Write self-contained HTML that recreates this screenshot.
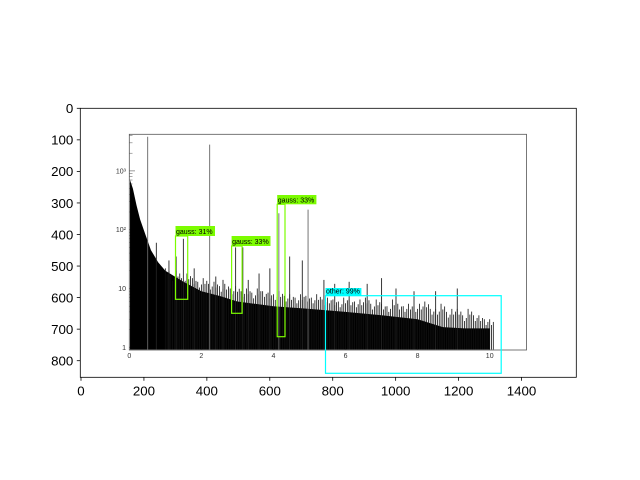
<!DOCTYPE html>
<html><head><meta charset="utf-8"><style>
body{margin:0;background:#fff;}
svg{display:block;font-family:"Liberation Sans",sans-serif;}
</style></head><body>
<svg id="c" width="640" height="480" viewBox="0 0 640 480">
<rect x="0" y="0" width="640" height="480" fill="#fff"/>
<g id="img"></g>
<g id="axes"></g>
</svg>
<script>
// outer axes (image pixel coordinates)
const xTicks=[0,200,400,600,800,1000,1200,1400];
const yTicks=[0,100,200,300,400,500,600,700,800];
// inner spectrum data (energy units, log counts)
const envX=[0.02,0.1,0.2,0.3,0.4,0.6,0.8,1.0,1.5,2.0,2.5,3.0,4.0,5.0,6.0,7.0,8.0,8.7,9.3,10.0];
const envHi=[700,500,260,150,100,45,28,20,13,9,7.5,6,5,4.5,4,3.5,3,2.2,2.1,2.1];
const hairStartX=1.0;
const hairStepX=0.15;
const hairY=[22,17,20,15,18,15,13,15,12,13,11,12,10,11,9,10,8.5,10,9,8.5,8,9,7.5,8,7,8,7.5,7,8,6.5,7,6.5,6,7,6.5,6,6.5,7,5.5,6.5,5.5,5,6.5,5.5,5,5.5,5,5.5,6,4.5,4.5,5.5,4,4.5,4.5,3.5,4.5,3.5,3.5,3,3];
const spikeX=[0.51,2.23,4.15,4.96,1.5,1.3,2.95,3.15,4.45,4.8,3.6,2.6,0.75,1.1,3.9,5.4,6.1,6.6,7.0,7.4,7.9,8.5,9.1,5.7,3.3,2.4,1.8];
const spikeY=[3800,2800,190,220,70,35,50,50,35,30,18,14,60,30,22,14,13,12,15,10,9,9,10,12,14,16,22];
const innerXTicks=[0,2,4,6,8,10];
const innerYTicks=[1,10,100,1000];
const innerYTickLabels=["1","10","10²","10³"];
const boxLabels=["gauss: 31%","gauss: 33%","gauss: 33%","other: 99%"];

const NS="http://www.w3.org/2000/svg";
function mk(tag,attrs,parent){const e=document.createElementNS(NS,tag);for(const k in attrs)e.setAttribute(k,attrs[k]);parent.appendChild(e);return e;}
const img=document.getElementById('img'),axes=document.getElementById('axes');
const AX0=80.3,AX1=576.3,AY0=108.3,AY1=377.3;
const ox=v=>81+v*(440.5/1400);
const oy=v=>108.3+v*(252.4/800);
const ix=v=>129.3+v*36.04;
const iy=v=>347.3-Math.log10(v)*58.8;
const BASE=349.5;

let f=mk('rect',{x:129.3,y:134.3,width:397.2,height:215.7,fill:'none',stroke:'#555','stroke-width':0.8},img);


innerXTicks.forEach(t=>{
 let l=mk('line',{x1:ix(t),x2:ix(t),y1:350,y2:346,stroke:'#555','stroke-width':0.6},img);
 
 
 let tx=mk('text',{x:ix(t),y:358,'font-size':7,'text-anchor':'middle',fill:'#333'},img);tx.textContent=t;
 
 
});
innerYTicks.forEach((t,i)=>{
 let l=mk('line',{x1:129.3,x2:135,y1:iy(t),y2:iy(t),stroke:'#555','stroke-width':0.6},img);
 
 
 for(let m=2;m<10;m++){let v=t*m;if(v>4000)break;
  let mm=mk('line',{x1:129.3,x2:132.5,y1:iy(v),y2:iy(v),stroke:'#555','stroke-width':0.5},img);
  
  }
 let tx=mk('text',{x:126,y:iy(t)+2.5,'font-size':7,'text-anchor':'end',fill:'#333'},img);tx.textContent=innerYTickLabels[i];
 
 
});
let d='M'+ix(envX[0]).toFixed(2)+' '+BASE;
envX.forEach((x,i)=>{d+=' L'+ix(x).toFixed(2)+' '+iy(envHi[i]).toFixed(2);});
d+=' L'+ix(envX[envX.length-1]).toFixed(2)+' '+BASE+' Z';
let poly=mk('path',{d:d,fill:'#000',stroke:'none'},img);


hairY.forEach((h,i)=>{
 const x=hairStartX+i*hairStepX;
 for(let k=0;k<3;k++){
  const xx=x+k*0.05, hh=h*(k==1?0.8:(k==2?0.9:1));
  let l=mk('line',{x1:ix(xx),x2:ix(xx),y1:BASE,y2:iy(hh),stroke:'#111','stroke-width':0.8},img);
  
  
 }
});
spikeX.forEach((x,i)=>{
 let l=mk('line',{x1:ix(x),x2:ix(x),y1:BASE,y2:iy(spikeY[i]),stroke:i<4?'#666':'#222','stroke-width':0.9},img);
 
 
});
const boxes=[[175.5,236,187.7,299.3,'#7cfc00',215,226],[231.6,246,242.1,313.3,'#7cfc00',270.5,236],[277.2,204.3,285,336.7,'#7cfc00',316.4,195],[325.5,295.7,501.2,373.3,'#00ffff',361.4,288]];
boxes.forEach((b,i)=>{
 let r=mk('rect',{x:b[0],y:b[1],width:b[2]-b[0],height:b[3]-b[1],fill:'none',stroke:b[4],'stroke-width':1.2},img);
 
 
 let bg=mk('rect',{x:b[0],y:b[6],width:b[5]-b[0],height:b[1]-b[6],fill:b[4]},img);
 
 
 let t=mk('text',{x:b[0]+0.5,y:b[1]-2,'font-size':7,fill:'#000'},img);t.textContent=boxLabels[i];
 
 
});
let fr=mk('rect',{x:AX0,y:AY0,width:AX1-AX0,height:AY1-AY0,fill:'none',stroke:'#000','stroke-width':0.8},axes);


xTicks.forEach(t=>{
 let l=mk('line',{x1:ox(t),x2:ox(t),y1:AY1,y2:AY1+3.5,stroke:'#000','stroke-width':0.8},axes);
 
 
 let tx=mk('text',{x:ox(t),y:AY1+18,'font-size':13.3,'text-anchor':'middle',fill:'#000'},axes);tx.textContent=t;
 
 
});
yTicks.forEach(t=>{
 let l=mk('line',{x1:AX0-3.5,x2:AX0,y1:oy(t),y2:oy(t),stroke:'#000','stroke-width':0.8},axes);
 
 
 let tx=mk('text',{x:AX0-7,y:oy(t)+4.8,'font-size':13.3,'text-anchor':'end',fill:'#000'},axes);tx.textContent=t;
 
 
});
</script>
</body></html>
